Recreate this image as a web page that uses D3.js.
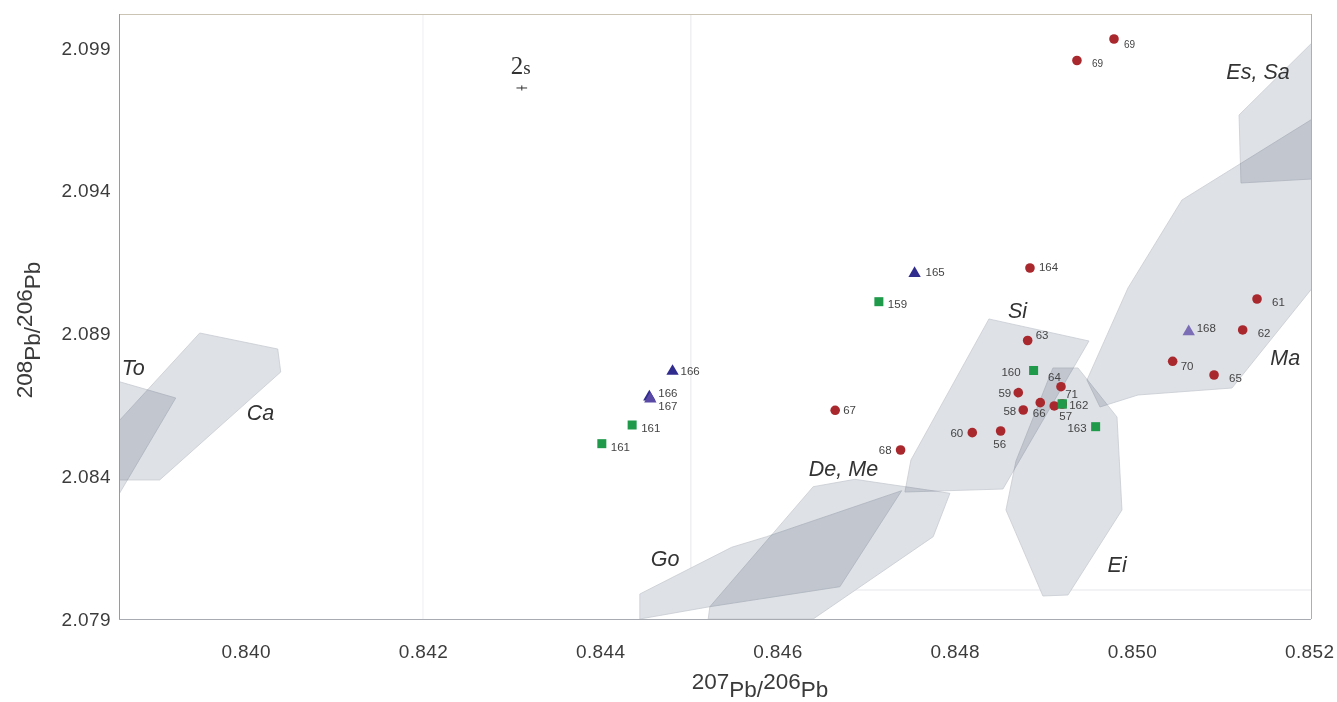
<!DOCTYPE html>
<html>
<head>
<meta charset="utf-8">
<script src="https://cdn.jsdelivr.net/npm/d3@7"></script>
<style>
  html, body { margin: 0; padding: 0; background: #fff; }
  svg { display: block; font-family: "Liberation Sans", Arial, Helvetica, sans-serif; }
</style>
</head>
<body>
<svg id="chart" width="1337" height="702"></svg>
<script>
// 207Pb/206Pb vs 208Pb/206Pb: sample analyses plotted over ore-field polygons

// Axis ticks
const xTicks = [0.840, 0.842, 0.844, 0.846, 0.848, 0.850, 0.852];
const yTicks = [2.079, 2.084, 2.089, 2.094, 2.099];

// Red circles
const circleIds = ["69", "69", "164", "63", "64", "59", "66", "57", "71", "58", "60", "56", "68", "67", "61", "62", "70", "65"];
const circleX = [0.849797, 0.849379, 0.848849, 0.848823, 0.849199, 0.848717, 0.848965, 0.849123, 0.849213, 0.848773, 0.848198, 0.848518, 0.847389, 0.846651, 0.851411, 0.851249, 0.850459, 0.850926];
const circleY = [2.099315, 2.098562, 2.091294, 2.088755, 2.087137, 2.086927, 2.086577, 2.086461, 2.086531, 2.086320, 2.085526, 2.085585, 2.084919, 2.086310, 2.090208, 2.089123, 2.088026, 2.087546];

// Green squares
const squareIds = ["159", "160", "162", "163", "161", "161"];
const squareX = [0.847144, 0.848890, 0.849213, 0.849590, 0.844360, 0.844018];
const squareY = [2.090114, 2.087704, 2.086531, 2.085736, 2.085795, 2.085141];

// Triangles
const triangleIds = ["165", "166", "166", "167", "168"];
const triangleX = [0.847547, 0.844816, 0.844554, 0.844565, 0.850640];
const triangleY = [2.091102, 2.087676, 2.086776, 2.086706, 2.089063];

// Label placement for each marker group: [dx, dy, anchor] in pixels
const circleLabelPos = [[10, 6, "start"], [15, 3, "start"], [9, -1, "start"], [8, -5, "start"], [-13, -10, "start"], [-7, 0, "end"], [-1, 10, "middle"], [5, 10, "start"], [3, -10, "start"], [-7, 1, "end"], [-9, 0, "end"], [-1, 13, "middle"], [-9, 0, "end"], [8, 0, "start"], [15, 3, "start"], [15, 3, "start"], [8, 5, "start"], [15, 3, "start"]];
const squareLabelPos = [[9, 2, "start"], [-13, 2, "end"], [7, 1, "start"], [-9, 1, "end"], [9, 3, "start"], [9, 3, "start"]];
const triangleLabelPos = [[11, -1, "start"], [8, 0, "start"], [9, -4, "start"], [8, 7, "start"], [8, -4, "start"]];

// Ore-field polygons (207Pb/206Pb, 208Pb/206Pb)
const fieldTo = [[0.838352, 2.087511], [0.839210, 2.086741], [0.838352, 2.082222]];
const fieldCa = [[0.839481, 2.089017], [0.840361, 2.088457], [0.840395, 2.087651], [0.839029, 2.083869], [0.838352, 2.083869], [0.838352, 2.085200]];
const fieldEsSa = [[0.852235, 2.099806], [0.851208, 2.096653], [0.851230, 2.094271], [0.852235, 2.094447]];
const fieldMa = [[0.852235, 2.096898], [0.850564, 2.093676], [0.849955, 2.090594], [0.849492, 2.087371], [0.849639, 2.086426], [0.850068, 2.086846], [0.851129, 2.087091], [0.852235, 2.091364]];
const fieldSi = [[0.848386, 2.089508], [0.849515, 2.088737], [0.848544, 2.083553], [0.847438, 2.083448], [0.847506, 2.084569]];
const fieldEi = [[0.849108, 2.087792], [0.849391, 2.087792], [0.849831, 2.086075], [0.849887, 2.082818], [0.849278, 2.079841], [0.848995, 2.079806], [0.848578, 2.082818], [0.848691, 2.084534]];
const fieldGo = [[0.844447, 2.079000], [0.844447, 2.079876], [0.845482, 2.081511], [0.845877, 2.081883], [0.847401, 2.083494], [0.846704, 2.080131], [0.845237, 2.079431]];
const fieldDeMe = [[0.845218, 2.079000], [0.845237, 2.079431], [0.846403, 2.083634], [0.846874, 2.083893], [0.847946, 2.083403], [0.847757, 2.081883], [0.846403, 2.079000]];

const fieldNames = ["To", "Ca", "Es, Sa", "Ma", "Si", "Ei", "Go", "De, Me"];
const fieldShapes = [fieldTo, fieldCa, fieldEsSa, fieldMa, fieldSi, fieldEi, fieldGo, fieldDeMe];
// Field name anchor points (data units, text start / baseline)
const fieldNameX = [0.838600, 0.840011, 0.851065, 0.851560, 0.848600, 0.849725, 0.844571, 0.846354];
const fieldNameY = [2.087546, 2.085970, 2.097914, 2.087897, 2.089543, 2.080646, 2.080856, 2.084009];

// Analytical uncertainty (2s) cross
const errCenter = [0.843115, 2.097599];
const errHalf = [0.00006, 0.00009];

const W = 1337, H = 702;
const mLeft = 119, mRight = 1311, mTop = 14, mBottom = 619;

const x = d3.scaleLinear().domain([0.83857, 0.85202]).range([mLeft, mRight]);
const y = d3.scaleLinear().domain([2.079, 2.10019]).range([mBottom, mTop]);

const svg = d3.select("#chart");

svg.append("defs").append("clipPath").attr("id", "plotClip")
  .append("rect").attr("x", mLeft).attr("y", mTop).attr("width", mRight - mLeft).attr("height", mBottom - mTop);

const plot = svg.append("g").attr("clip-path", "url(#plotClip)");

// faint inner guide lines
plot.append("line")
  .attr("x1", x(0.842)).attr("x2", x(0.842)).attr("y1", mTop).attr("y2", mBottom)
  .attr("stroke", "#eeeef2").attr("stroke-width", 1);
plot.append("line")
  .attr("x1", x(0.845023)).attr("x2", x(0.845023)).attr("y1", mTop).attr("y2", y(2.080016))
  .attr("stroke", "#e6e7ec").attr("stroke-width", 1);
plot.append("line")
  .attr("x1", x(0.845023)).attr("x2", mRight).attr("y1", y(2.080016)).attr("y2", y(2.080016))
  .attr("stroke", "#e6e7ec").attr("stroke-width", 1);

// fields
const line = d3.line().x(d => x(d[0])).y(d => y(d[1]));
const fieldLayer = plot.append("g").style("isolation", "isolate");
fieldLayer.selectAll("path.field")
  .data(fieldShapes)
  .join("path")
  .attr("class", "field")
  .attr("d", d => line(d) + "Z")
  .attr("fill", "#dee1e6")
  .attr("stroke", "#c8ccd2")
  .attr("stroke-width", 0.8)
  .style("mix-blend-mode", "multiply");

// field names
svg.append("g").selectAll("text")
  .data(fieldNames)
  .join("text")
  .attr("x", (d, i) => x(fieldNameX[i]))
  .attr("y", (d, i) => y(fieldNameY[i]))
  .attr("font-size", 21.5)
  .attr("font-style", "italic")
  .attr("fill", "#333")
  .text(d => d);

// frame
const frame = svg.append("g").attr("fill", "none").attr("stroke-width", 1);
frame.append("line").attr("x1", mLeft).attr("x2", mRight).attr("y1", mTop + 0.5).attr("y2", mTop + 0.5).attr("stroke", "#cbc4b5");
frame.append("line").attr("x1", mRight + 0.5).attr("x2", mRight + 0.5).attr("y1", mTop).attr("y2", mBottom).attr("stroke", "#b7af9c");
frame.append("line").attr("x1", mLeft).attr("x2", mRight).attr("y1", mBottom + 0.5).attr("y2", mBottom + 0.5).attr("stroke", "#a9abb2");
frame.append("line").attr("x1", mLeft + 0.5).attr("x2", mLeft + 0.5).attr("y1", mTop).attr("y2", mBottom).attr("stroke", "#959aa6");

// axes
const xAxis = d3.axisBottom(x).tickValues(xTicks).tickSize(0).tickPadding(26).tickFormat(d3.format(".3f"));
const yAxis = d3.axisLeft(y).tickValues(yTicks).tickSize(0).tickPadding(8).tickFormat(d3.format(".3f"));

const gx = svg.append("g").attr("transform", `translate(0,${mBottom})`).call(xAxis);
const gy = svg.append("g").attr("transform", `translate(${mLeft},0)`).call(yAxis);
[gx, gy].forEach(g => {
  g.select(".domain").remove();
  g.selectAll("text")
    .attr("font-family", "'Liberation Sans', Arial, sans-serif")
    .attr("font-size", 19)
    .attr("letter-spacing", 0.4)
    .attr("fill", "#3c3c3c");
});

// axis titles
const xTitle = svg.append("text")
  .attr("x", 760).attr("y", 697)
  .attr("text-anchor", "middle")
  .attr("font-size", 22.5).attr("fill", "#3a3a3a");
xTitle.append("tspan").attr("dy", -8).text("207");
xTitle.append("tspan").attr("dy", 8).text("Pb/");
xTitle.append("tspan").attr("dy", -8).text("206");
xTitle.append("tspan").attr("dy", 8).text("Pb");

const yTitle = svg.append("text")
  .attr("transform", "translate(40,330) rotate(-90)")
  .attr("text-anchor", "middle")
  .attr("font-size", 22.5).attr("fill", "#3a3a3a");
yTitle.append("tspan").attr("dy", -8).text("208");
yTitle.append("tspan").attr("dy", 8).text("Pb/");
yTitle.append("tspan").attr("dy", -8).text("206");
yTitle.append("tspan").attr("dy", 8).text("Pb");

// 2s uncertainty marker
const err = svg.append("g").attr("stroke", "#333").attr("stroke-width", 1);
err.append("line")
  .attr("x1", x(errCenter[0] - errHalf[0])).attr("x2", x(errCenter[0] + errHalf[0]))
  .attr("y1", y(errCenter[1])).attr("y2", y(errCenter[1]));
err.append("line")
  .attr("x1", x(errCenter[0])).attr("x2", x(errCenter[0]))
  .attr("y1", y(errCenter[1] - errHalf[1])).attr("y2", y(errCenter[1] + errHalf[1]));
const sLabel = svg.append("text")
  .attr("x", x(errCenter[0]) - 11).attr("y", y(errCenter[1]) - 14)
  .attr("font-family", "'Liberation Serif', 'DejaVu Serif', serif")
  .attr("fill", "#333");
sLabel.append("tspan").attr("font-size", 25).text("2");
sLabel.append("tspan").attr("font-size", 19).text("s");

// markers
const marks = svg.append("g");
const labelStyle = sel => sel
  .attr("font-size", 11.5)
  .attr("fill", "#444")
  .attr("dominant-baseline", "central");

// squares
const sq = 9;
marks.selectAll("rect.sq")
  .data(squareIds)
  .join("rect")
  .attr("class", "sq")
  .attr("x", (d, i) => x(squareX[i]) - sq / 2)
  .attr("y", (d, i) => y(squareY[i]) - sq / 2)
  .attr("width", sq).attr("height", sq)
  .attr("fill", "#1f9a4b");

// circles (71 sits beneath square 162)
marks.selectAll("circle")
  .data(circleIds)
  .join("circle")
  .attr("cx", (d, i) => x(circleX[i]))
  .attr("cy", (d, i) => y(circleY[i]))
  .attr("r", 4.8)
  .attr("fill", "#a8282d");

// redraw square 162 on top of circle 71
marks.append("rect")
  .attr("x", x(squareX[2]) - sq / 2)
  .attr("y", y(squareY[2]) - sq / 2)
  .attr("width", sq).attr("height", sq)
  .attr("fill", "#1f9a4b");

// triangles
const tri = d3.symbol().type(d3.symbolTriangle).size(66);
marks.selectAll("path.tri")
  .data(triangleIds)
  .join("path")
  .attr("class", "tri")
  .attr("d", tri)
  .attr("transform", (d, i) => `translate(${x(triangleX[i])},${y(triangleY[i])})`)
  .attr("fill", (d, i) => d === "168" ? "#7b6db6" : (d === "167" ? "#5a4aa6" : "#302c8e"));

// labels
const labels = svg.append("g");
labels.selectAll("text.cl")
  .data(circleIds)
  .join("text")
  .attr("class", "cl")
  .attr("x", (d, i) => x(circleX[i]) + circleLabelPos[i][0])
  .attr("y", (d, i) => y(circleY[i]) + circleLabelPos[i][1])
  .attr("text-anchor", (d, i) => circleLabelPos[i][2])
  .call(labelStyle)
  .attr("font-size", (d, i) => i < 2 ? 10 : 11.5)
  .text(d => d);

labels.selectAll("text.sl")
  .data(squareIds)
  .join("text")
  .attr("class", "sl")
  .attr("x", (d, i) => x(squareX[i]) + squareLabelPos[i][0])
  .attr("y", (d, i) => y(squareY[i]) + squareLabelPos[i][1])
  .attr("text-anchor", (d, i) => squareLabelPos[i][2])
  .call(labelStyle)
  .text(d => d);

labels.selectAll("text.tl")
  .data(triangleIds)
  .join("text")
  .attr("class", "tl")
  .attr("x", (d, i) => x(triangleX[i]) + triangleLabelPos[i][0])
  .attr("y", (d, i) => y(triangleY[i]) + triangleLabelPos[i][1])
  .attr("text-anchor", (d, i) => triangleLabelPos[i][2])
  .call(labelStyle)
  .text(d => d);
</script>
</body>
</html>
